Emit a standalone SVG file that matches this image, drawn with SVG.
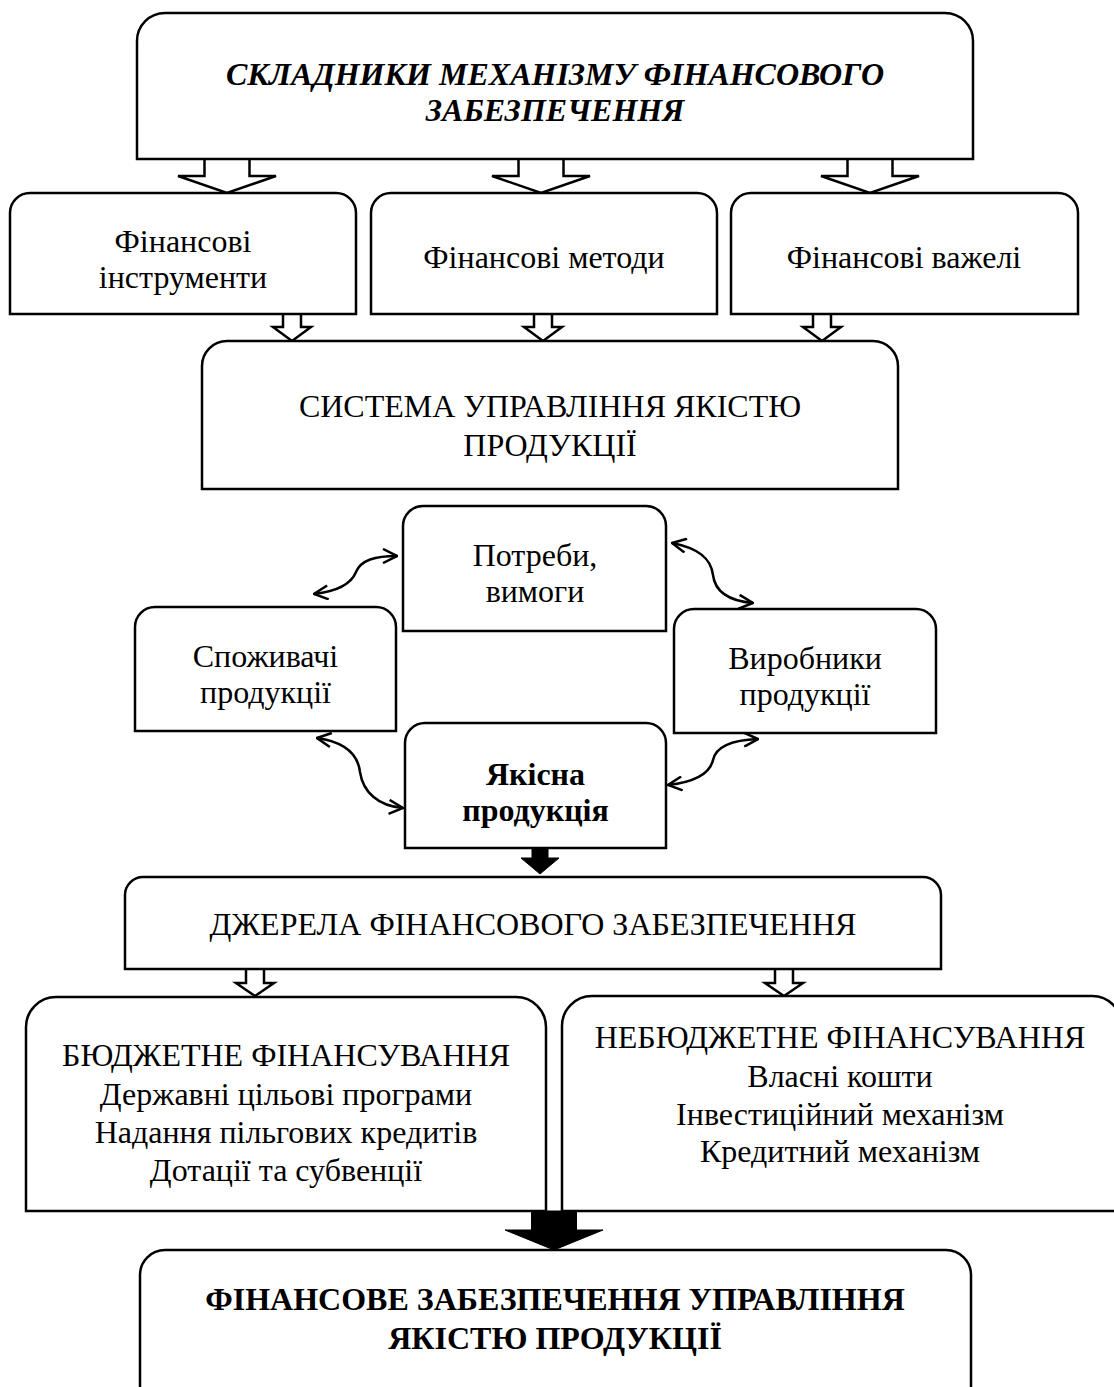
<svg xmlns="http://www.w3.org/2000/svg" width="1114" height="1387" viewBox="0 0 1114 1387">
<style>
.box{fill:#fff;stroke:#000;stroke-width:2.5}
.t{font-family:"Liberation Serif","Times New Roman",serif;font-size:32px;text-anchor:middle;fill:#000}
.bi{font-weight:bold;font-style:italic}
.b{font-weight:bold}
.ha{fill:#fff;stroke:#000;stroke-width:2.5}
.fa{fill:#000;stroke:#000;stroke-width:1}
.cv{fill:none;stroke:#000;stroke-width:2.5;marker-start:url(#oh);marker-end:url(#oh)}
</style>
<defs>
<marker id="oh" viewBox="0 0 16 16" markerWidth="16" markerHeight="16" refX="15" refY="8" markerUnits="userSpaceOnUse" orient="auto-start-reverse">
<path d="M1,1 L15,8 L1,15" fill="none" stroke="#000" stroke-width="2.5"/>
</marker>
</defs>
<rect width="1114" height="1387" fill="#fff"/>
<g id="connectors">
<path class="ha" d="M204.5,159 V176 H178 L227,193 L276,176 H249.5 V159"/>
<path class="ha" d="M518.5,159 V176 H492 L541,193 L590,176 H563.5 V159"/>
<path class="ha" d="M847.5,159 V176 H821 L870,193 L919,176 H892.5 V159"/>
<path class="ha" d="M283,314 V327 H273 L292,341 L311,327 H301 V314"/>
<path class="ha" d="M534,314 V327 H524 L543,341 L562,327 H552 V314"/>
<path class="ha" d="M813,314 V327 H803 L822,341 L841,327 H831 V314"/>
<path class="cv" d="M314,594 C340,591 352,582 356,572 C361,560 375,556 397,556"/>
<path class="cv" d="M317,738 C345,742 358,755 360,772 C363,792 378,806 403,808"/>
<path class="cv" d="M672,543 C698,548 711,558 713,575 C715,592 730,601 753,603"/>
<path class="cv" d="M668,785 C695,782 710,773 713,760 C716,746 733,740 758,739"/>
<path class="fa" d="M532,848 V858 H521 L540,874 L559,858 H548 V848 Z"/>
<path class="ha" d="M246,969 V983 H236 L255,996 L274,983 H264 V969"/>
<path class="ha" d="M775,969 V983 H765 L784,996 L803,983 H793 V969"/>
<path class="fa" d="M531.5,1211 V1230 H505 L554,1250 L603,1230 H576.5 V1211 Z"/>
</g>
<g id="n-top">
<path class="box" d="M137,159 V41 A28,28 0 0 1 165,13 H945 A28,28 0 0 1 973,41 V159 Z"/>
<text class="t bi" x="555" y="85">СКЛАДНИКИ МЕХАНІЗМУ ФІНАНСОВОГО</text>
<text class="t bi" x="555" y="121">ЗАБЕЗПЕЧЕННЯ</text>
</g>
<g id="n-instr">
<path class="box" d="M10,314 V213 A20,20 0 0 1 30,193 H336 A20,20 0 0 1 356,213 V314 Z"/>
<text class="t" x="183" y="252">Фінансові</text>
<text class="t" x="183" y="288">інструменти</text>
</g>
<g id="n-methods">
<path class="box" d="M371,314 V213 A20,20 0 0 1 391,193 H697 A20,20 0 0 1 717,213 V314 Z"/>
<text class="t" x="544" y="268">Фінансові методи</text>
</g>
<g id="n-levers">
<path class="box" d="M731,314 V213 A20,20 0 0 1 751,193 H1058 A20,20 0 0 1 1078,213 V314 Z"/>
<text class="t" x="904" y="268">Фінансові важелі</text>
</g>
<g id="n-system">
<path class="box" d="M202,489 V366 A25,25 0 0 1 227,341 H873 A25,25 0 0 1 898,366 V489 Z"/>
<text class="t" x="550" y="417">СИСТЕМА УПРАВЛІННЯ ЯКІСТЮ</text>
<text class="t" x="550" y="456">ПРОДУКЦІЇ</text>
</g>
<g id="n-needs">
<path class="box" d="M403,631 V526 A20,20 0 0 1 423,506 H646 A20,20 0 0 1 666,526 V631 Z"/>
<text class="t" x="535" y="566">Потреби,</text>
<text class="t" x="535" y="602">вимоги</text>
</g>
<g id="n-consumers">
<path class="box" d="M135,731 V627 A20,20 0 0 1 155,607 H376 A20,20 0 0 1 396,627 V731 Z"/>
<text class="t" x="265.5" y="667">Споживачі</text>
<text class="t" x="265.5" y="703">продукції</text>
</g>
<g id="n-producers">
<path class="box" d="M674,733 V629 A20,20 0 0 1 694,609 H916 A20,20 0 0 1 936,629 V733 Z"/>
<text class="t" x="805" y="669">Виробники</text>
<text class="t" x="805" y="705">продукції</text>
</g>
<g id="n-quality">
<path class="box" d="M405,848 V743 A20,20 0 0 1 425,723 H646 A20,20 0 0 1 666,743 V848 Z"/>
<text class="t b" x="535.5" y="785">Якісна</text>
<text class="t b" x="535.5" y="821">продукція</text>
</g>
<g id="n-sources">
<path class="box" d="M125,969 V895 A18,18 0 0 1 143,877 H923 A18,18 0 0 1 941,895 V969 Z"/>
<text class="t" x="533" y="935">ДЖЕРЕЛА ФІНАНСОВОГО ЗАБЕЗПЕЧЕННЯ</text>
</g>
<g id="n-budget">
<path class="box" d="M26,1211 V1027 A30,30 0 0 1 56,997 H516 A30,30 0 0 1 546,1027 V1211 Z"/>
<text class="t" x="286" y="1066">БЮДЖЕТНЕ ФІНАНСУВАННЯ</text>
<text class="t" x="286" y="1105">Державні цільові програми</text>
<text class="t" x="286" y="1143">Надання пільгових кредитів</text>
<text class="t" x="286" y="1181">Дотації та субвенції</text>
</g>
<g id="n-nonbudget">
<path class="box" d="M562,1211 V1026 A30,30 0 0 1 592,996 H1092 A30,30 0 0 1 1122,1026 V1211 Z"/>
<text class="t" x="840" y="1048">НЕБЮДЖЕТНЕ ФІНАНСУВАННЯ</text>
<text class="t" x="840" y="1087">Власні кошти</text>
<text class="t" x="840" y="1125">Інвестиційний механізм</text>
<text class="t" x="840" y="1162">Кредитний механізм</text>
</g>
<g id="n-result">
<path class="box" d="M140,1400 V1275 A25,25 0 0 1 165,1250 H946 A25,25 0 0 1 971,1275 V1400 Z"/>
<text class="t b" x="555" y="1310">ФІНАНСОВЕ ЗАБЕЗПЕЧЕННЯ УПРАВЛІННЯ</text>
<text class="t b" x="555" y="1349">ЯКІСТЮ ПРОДУКЦІЇ</text>
</g>
</svg>
